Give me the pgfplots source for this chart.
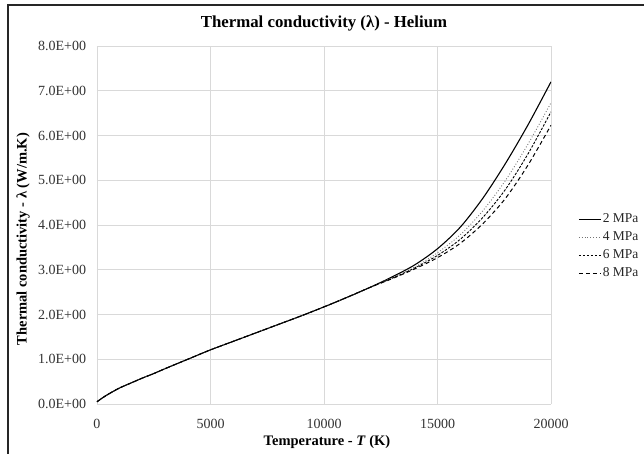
\documentclass[border=0pt]{standalone}
\usepackage{pgfplots}
\pgfplotsset{compat=1.18}
\usepackage{fontspec}
\setmainfont{Liberation Serif}
\usetikzlibrary{calc}
\definecolor{gridc}{HTML}{D9D9D9}
\pgfplotstableread{
x    p2    p4    p6    p8
0    0.05  0.05  0.05  0.05
250  0.14  0.14  0.14  0.14
500  0.22  0.22  0.22  0.22
1000 0.36  0.36  0.36  0.36
1500 0.47  0.47  0.47  0.47
2000 0.58  0.58  0.58  0.58
2500 0.68  0.68  0.68  0.68
3000 0.79  0.79  0.79  0.79
4000 1.00  1.00  1.00  1.00
5000 1.21  1.21  1.21  1.21
6000 1.40  1.40  1.40  1.40
7000 1.59  1.59  1.59  1.59
8000 1.78  1.78  1.78  1.78
9000 1.97  1.97  1.97  1.97
10000 2.17 2.17  2.17  2.17
11000 2.38 2.38  2.38  2.38
12000 2.60 2.60  2.60  2.60
13000 2.84 2.82  2.81  2.80
14000 3.11 3.06  3.04  3.02
15000 3.47 3.38  3.32  3.27
16000 3.95 3.78  3.68  3.59
17000 4.60 4.32  4.17  4.03
18000 5.38 5.00  4.80  4.60
19000 6.25 5.82  5.60  5.35
20000 7.20 6.73  6.53  6.23
}\data
\begin{document}
\fontsize{14bp}{16bp}\selectfont
\begin{tikzpicture}
\path[use as bounding box] (-97bp,-50bp) rectangle (547bp,404bp);
\clip (-97bp,-50bp) rectangle (547bp,404bp);
\begin{axis}[
  anchor=south west, at={(0bp,0bp)},
  scale only axis,
  width=454bp, height=358bp,
  xmin=0, xmax=20000, ymin=0, ymax=8,
  scaled x ticks=false,
  xtick={0,5000,10000,15000,20000},
  xticklabels={0,5000,10000,15000,20000},
  ytick={0,1,...,8},
  yticklabels={0.0E+00,1.0E+00,2.0E+00,3.0E+00,4.0E+00,5.0E+00,6.0E+00,7.0E+00,8.0E+00},
  /pgf/number format/assume math mode=true,
  tick label style={font=\fontsize{14bp}{16bp}\selectfont, color=black!80},
  xticklabel style={yshift=-10bp},
  yticklabel style={xshift=-6bp},
  major tick length=0pt,
  grid=major,
  grid style={gridc, line width=0.8pt},
  axis line style={draw=none},
  title={\textbf{Thermal conductivity (λ) - Helium}},
  title style={font=\fontsize{16.8bp}{18bp}\selectfont, yshift=4bp},
  xlabel={\textbf{Temperature - \textit{T} (K)}},
  ylabel={\textbf{Thermal conductivity - λ (W/m.K)}},
  label style={font=\fontsize{14.5bp}{17bp}\selectfont},
  xlabel style={yshift=2bp, xshift=3bp},
  ylabel style={yshift=-1bp, xshift=-14bp},
  legend style={draw=none, fill=none, at={(rel axis cs:1,0.441)}, anchor=west, xshift=27bp,
    font=\fontsize{13.5bp}{16bp}\selectfont, row sep=3bp, inner xsep=0pt, inner ysep=0pt, text=black!85,
    nodes={inner xsep=1.5bp}},
  legend cell align=left,
  legend image code/.code={\draw[#1] (0bp,0bp) -- (22bp,0bp);},
]
\addplot[black, line width=1.1pt, smooth] table[x=x, y=p2] {\data};
\addlegendentry{2 MPa}
\addplot[black!55, line width=0.9pt, dotted, smooth] table[x=x, y=p4] {\data};
\addlegendentry{4 MPa}
\addplot[black, line width=0.9pt, dash pattern=on 2.5bp off 1.5bp, smooth] table[x=x, y=p6] {\data};
\addlegendentry{6 MPa}
\addplot[black, line width=1pt, dash pattern=on 4bp off 3bp, smooth] table[x=x, y=p8] {\data};
\addlegendentry{8 MPa}
\end{axis}
\draw[black!85, line width=1.3pt] (-89bp,-50bp) -- (-89bp,399bp) -- (547bp,399bp);
\end{tikzpicture}
\end{document}
